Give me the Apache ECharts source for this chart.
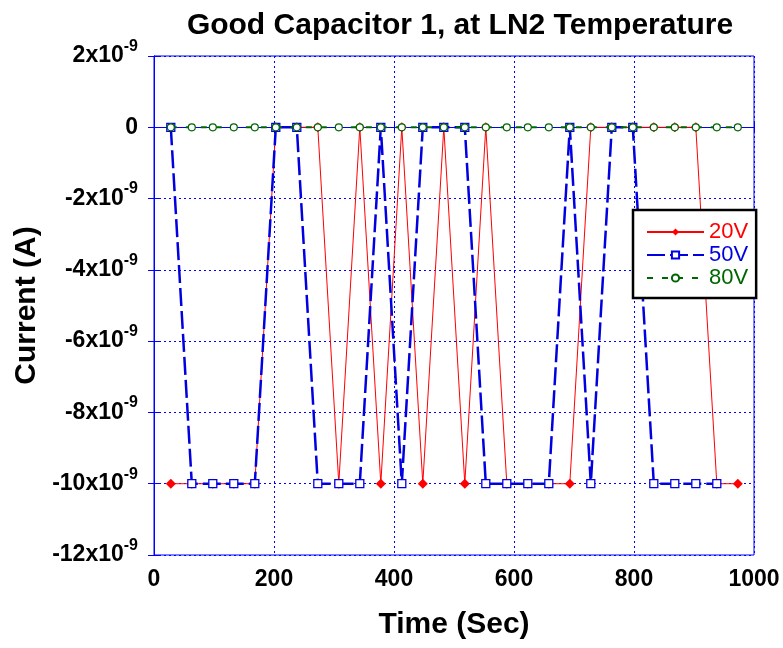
<!DOCTYPE html>
<html>
<head>
<meta charset="utf-8">
<script src="https://cdn.jsdelivr.net/npm/echarts@6/dist/echarts.min.js"></script>
<style>html,body{margin:0;padding:0;background:#fff}#c{width:783px;height:648px}</style>
</head>
<body>
<div id="c"></div>
<script>
// Time (s) of each sample
var timeSec = [28, 63, 98, 133, 168, 203, 238, 273, 308, 343, 378, 413, 448, 483, 518, 553, 588, 623, 658, 693, 728, 763, 798, 833, 868, 903, 938, 973];
// Currents in units of 1e-9 A
var current20V = [-10, -10, -10, -10, -10, 0, 0, 0, -10, 0, -10, 0, -10, 0, -10, 0, -10, -10, -10, -10, 0, 0, 0, 0, 0, 0, -10, -10];
var current50V = [0, -10, -10, -10, -10, 0, 0, -10, -10, -10, 0, -10, 0, 0, 0, -10, -10, -10, -10, 0, -10, 0, 0, -10, -10, -10, -10];
var current80V = [0, 0, 0, 0, 0, 0, 0, 0, 0, 0, 0, 0, 0, 0, 0, 0, 0, 0, 0, 0, 0, 0, 0, 0, 0, 0, 0, 0];
var seriesNames = ['20V', '50V', '80V'];
var titleText = 'Good Capacitor 1, at LN2 Temperature';
var xName = 'Time (Sec)';
var yName = 'Current (A)';

function pairs(vals) {
  var out = [];
  for (var i = 0; i < vals.length; i++) out.push([timeSec[i], vals[i]]);
  return out;
}

var FONT = '"Liberation Sans", Arial, Helvetica, sans-serif';
var RED = '#ff0000', BLUE = '#0000e0', GREEN = '#006600', AXIS = '#0000ff';

var chart = echarts.init(document.getElementById('c'), null, {renderer: 'canvas'});
chart.setOption({
  animation: false,
  backgroundColor: '#fff',
  title: {
    text: titleText,
    left: 455, top: 6, textAlign: 'center',
    textStyle: {fontFamily: FONT, fontSize: 30, fontWeight: 'bold', color: '#000'}
  },
  grid: {left: 154, top: 56, width: 600, height: 499, show: true, borderColor: AXIS, borderWidth: 1, backgroundColor: 'transparent'},
  legend: {
    orient: 'vertical',
    left: 633, top: 210,
    padding: [11, 8, 9, 13],
    itemWidth: 57, itemHeight: 9, itemGap: 1,
    backgroundColor: '#fff', borderColor: '#000', borderWidth: 2.5,
    textStyle: {fontFamily: FONT, fontSize: 22, lineHeight: 22},
    data: [
      {name: seriesNames[0], textStyle: {color: RED}},
      {name: seriesNames[1], textStyle: {color: BLUE}},
      {name: seriesNames[2], textStyle: {color: GREEN}}
    ]
  },
  xAxis: [{
    type: 'value', min: 0, max: 1000, interval: 200,
    name: xName, nameLocation: 'middle', nameGap: 55,
    nameTextStyle: {fontFamily: FONT, fontSize: 30, fontWeight: 'bold', color: '#000'},
    axisLine: {show: true, lineStyle: {color: AXIS, width: 1}},
    axisTick: {show: true, inside: true, length: 6, lineStyle: {color: AXIS}},
    axisLabel: {
      fontFamily: FONT, fontSize: 23, fontWeight: 'bold', color: '#000', margin: 13,
      formatter: function (v) { return String(v); }
    },
    splitLine: {show: true, lineStyle: {color: AXIS, type: [2, 3], width: 1}}
  }, {
    type: 'value', min: 0, max: 1000, interval: 200, position: 'top',
    axisLine: {show: true, lineStyle: {color: AXIS}},
    axisTick: {show: true, inside: true, length: 6, lineStyle: {color: AXIS}},
    axisLabel: {show: false}, splitLine: {show: false}
  }],
  yAxis: [{
    type: 'value', min: -12, max: 2, interval: 2,
    name: yName, nameLocation: 'middle', nameGap: 110, nameRotate: 90,
    nameTextStyle: {fontFamily: FONT, fontSize: 30, fontWeight: 'bold', color: '#000'},
    axisLine: {show: true, lineStyle: {color: AXIS, width: 1}},
    axisTick: {show: true, inside: true, length: 6, lineStyle: {color: AXIS}},
    axisLabel: {
      margin: 16, color: '#000',
      formatter: function (v) {
        if (v === 0) return '{m|0}';
        return '{m|' + v + 'x10}{s|-9}';
      },
      rich: {
        m: {fontFamily: FONT, fontSize: 23, fontWeight: 'bold', color: '#000'},
        s: {fontFamily: FONT, fontSize: 16, fontWeight: 'bold', color: '#000', padding: [0, 0, 19, 0]}
      }
    },
    splitLine: {show: true, lineStyle: {color: AXIS, type: [2, 3], width: 1}}
  }, {
    type: 'value', min: -12, max: 2, interval: 2, position: 'right',
    axisLine: {show: true, lineStyle: {color: AXIS}},
    axisTick: {show: true, inside: true, length: 6, lineStyle: {color: AXIS}},
    axisLabel: {show: false}, splitLine: {show: false}
  }],
  series: [{
    name: seriesNames[0], type: 'line', data: pairs(current20V),
    symbol: 'diamond', symbolSize: 10, showAllSymbol: true,
    lineStyle: {color: RED, width: 1},
    itemStyle: {color: RED, borderColor: RED, borderWidth: 0},
    z: 2
  }, {
    name: seriesNames[1], type: 'line', data: pairs(current50V),
    symbol: 'rect', symbolSize: 8, showAllSymbol: true,
    lineStyle: {color: BLUE, width: 2.5, type: [18, 5]},
    itemStyle: {color: '#fff', borderColor: BLUE, borderWidth: 1.3},
    z: 3
  }, {
    name: seriesNames[2], type: 'line', data: pairs(current80V),
    symbol: 'circle', symbolSize: 7, showAllSymbol: true,
    lineStyle: {color: GREEN, width: 2, type: [6, 9]},
    itemStyle: {color: '#fff', borderColor: GREEN, borderWidth: 1.2},
    z: 4
  }]
});
</script>
</body>
</html>
